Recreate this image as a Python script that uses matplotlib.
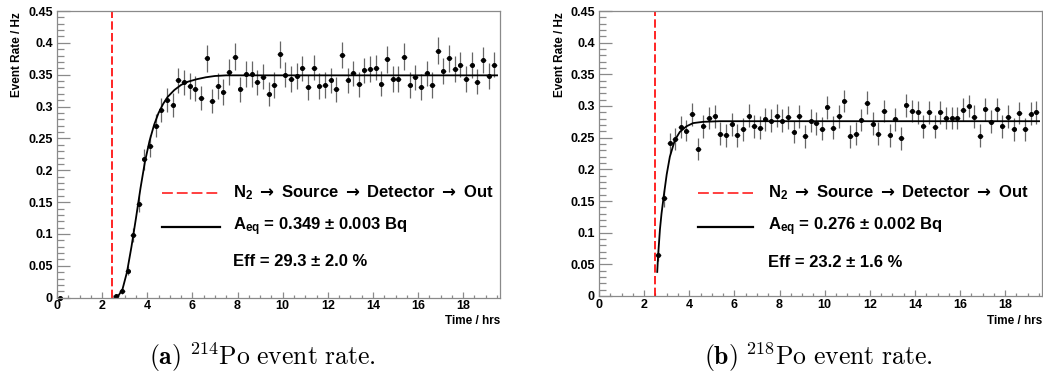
import matplotlib
matplotlib.use("Agg")
import matplotlib.pyplot as plt
from matplotlib.ticker import MultipleLocator, FuncFormatter

plt.rcParams['font.family'] = ['Liberation Sans', 'DejaVu Sans']
plt.rcParams['font.weight'] = 'bold'
plt.rcParams['mathtext.fontset'] = 'custom'
plt.rcParams['mathtext.rm'] = 'Liberation Sans:bold'
plt.rcParams['mathtext.it'] = 'Liberation Sans:bold'
plt.rcParams['mathtext.bf'] = 'Liberation Sans:bold'
plt.rcParams['mathtext.sf'] = 'DejaVu Sans'

# --- data ---
# bin centres (hrs), shared by both panels
time_hr = [2.625, 2.875, 3.125, 3.375, 3.625, 3.875, 4.125, 4.375, 4.625, 4.875,
           5.125, 5.375, 5.625, 5.875, 6.125, 6.375, 6.625, 6.875, 7.125, 7.375,
           7.625, 7.875, 8.125, 8.375, 8.625, 8.875, 9.125, 9.375, 9.625, 9.875,
           10.125, 10.375, 10.625, 10.875, 11.125, 11.375, 11.625, 11.875, 12.125, 12.375,
           12.625, 12.875, 13.125, 13.375, 13.625, 13.875, 14.125, 14.375, 14.625, 14.875,
           15.125, 15.375, 15.625, 15.875, 16.125, 16.375, 16.625, 16.875, 17.125, 17.375,
           17.625, 17.875, 18.125, 18.375, 18.625, 18.875, 19.125, 19.375]
bin_half = 0.125

# Po-214
po214_rate = [0.003, 0.010, 0.042, 0.099, 0.147, 0.217, 0.238, 0.270, 0.294, 0.310,
              0.302, 0.341, 0.338, 0.332, 0.328, 0.314, 0.376, 0.309, 0.332, 0.323,
              0.354, 0.378, 0.327, 0.351, 0.351, 0.338, 0.347, 0.320, 0.334, 0.382,
              0.350, 0.343, 0.348, 0.360, 0.330, 0.361, 0.332, 0.334, 0.341, 0.327,
              0.381, 0.341, 0.352, 0.335, 0.357, 0.359, 0.361, 0.336, 0.374, 0.343,
              0.343, 0.378, 0.334, 0.346, 0.331, 0.352, 0.334, 0.388, 0.356, 0.376,
              0.359, 0.366, 0.343, 0.365, 0.339, 0.373, 0.348, 0.366]
po214_err = [0.002, 0.004, 0.007, 0.011, 0.013, 0.016, 0.017, 0.018, 0.019, 0.019,
             0.019, 0.020, 0.020, 0.020, 0.020, 0.019, 0.021, 0.019, 0.020, 0.020,
             0.020, 0.021, 0.020, 0.020, 0.020, 0.020, 0.020, 0.019, 0.020, 0.021,
             0.020, 0.020, 0.020, 0.020, 0.020, 0.020, 0.020, 0.020, 0.020, 0.020,
             0.021, 0.020, 0.020, 0.020, 0.020, 0.020, 0.020, 0.020, 0.021, 0.020,
             0.020, 0.021, 0.020, 0.020, 0.020, 0.020, 0.020, 0.021, 0.020, 0.021,
             0.020, 0.020, 0.020, 0.020, 0.020, 0.021, 0.020, 0.020]
po214_early_t = [0.125]
po214_early_rate = [0.0]
po214_fit_t = [2.58, 2.70, 2.90, 3.10, 3.30, 3.50, 3.70, 3.90, 4.10, 4.30, 4.50,
               4.70, 4.90, 5.20, 5.50, 5.80, 6.20, 6.60, 7.00, 7.50, 19.50]
po214_fit = [0.000, 0.002, 0.013, 0.040, 0.080, 0.125, 0.172, 0.214, 0.246, 0.271, 0.290,
             0.304, 0.315, 0.326, 0.334, 0.339, 0.343, 0.346, 0.348, 0.349, 0.349]

# Po-218
po218_rate = [0.064, 0.154, 0.241, 0.248, 0.267, 0.261, 0.287, 0.232, 0.268, 0.281,
              0.284, 0.256, 0.254, 0.271, 0.254, 0.263, 0.285, 0.268, 0.266, 0.279,
              0.277, 0.285, 0.277, 0.282, 0.259, 0.284, 0.252, 0.277, 0.273, 0.264,
              0.298, 0.266, 0.284, 0.308, 0.252, 0.256, 0.278, 0.305, 0.272, 0.256,
              0.292, 0.254, 0.279, 0.249, 0.301, 0.292, 0.290, 0.268, 0.290, 0.267,
              0.290, 0.281, 0.281, 0.281, 0.294, 0.300, 0.283, 0.253, 0.295, 0.275,
              0.295, 0.268, 0.283, 0.263, 0.289, 0.263, 0.288, 0.290]
po218_err = [0.009, 0.013, 0.016, 0.017, 0.017, 0.017, 0.018, 0.017, 0.018, 0.018,
             0.018, 0.018, 0.018, 0.018, 0.018, 0.018, 0.018, 0.018, 0.018, 0.018,
             0.018, 0.018, 0.018, 0.018, 0.018, 0.018, 0.018, 0.018, 0.018, 0.018,
             0.018, 0.018, 0.018, 0.018, 0.018, 0.018, 0.018, 0.018, 0.018, 0.018,
             0.018, 0.018, 0.018, 0.018, 0.018, 0.018, 0.018, 0.018, 0.018, 0.018,
             0.018, 0.018, 0.018, 0.018, 0.018, 0.018, 0.018, 0.018, 0.018, 0.018,
             0.018, 0.018, 0.018, 0.018, 0.018, 0.018, 0.018, 0.018]
po218_fit_t = [2.58, 2.62, 2.70, 2.77, 2.87, 3.00, 3.14, 3.36, 3.58, 3.88, 4.17,
               4.61, 5.35, 19.50]
po218_fit = [0.038, 0.064, 0.105, 0.130, 0.158, 0.192, 0.220, 0.246, 0.259, 0.268, 0.273,
             0.275, 0.276, 0.276]

flush_time = [2.45, 2.5]

ARROW = r'$\mathsf{\rightarrow}$'
legend_n2 = 'N$_2$ ' + ARROW + ' Source ' + ARROW + ' Detector ' + ARROW + ' Out'
legend_fit = [r'A$_{eq}$ = 0.349 ± 0.003 Bq', r'A$_{eq}$ = 0.276 ± 0.002 Bq']
legend_eff = ['Eff = 29.3 ± 2.0 %', 'Eff = 23.2 ± 1.6 %']
captions = [r'$\mathbf{(a)}\ {}^{214}\mathrm{Po\ event\ rate.}$',
            r'$\mathbf{(b)}\ {}^{218}\mathrm{Po\ event\ rate.}$']

W, H = 1043, 376
fig = plt.figure(figsize=(W / 100, H / 100), dpi=100)

# axes boxes in pixels: left, top, right, bottom
boxes = [(57, 11, 500, 297.7), (599, 11, 1042, 296)]
leg_x = [(0.237, 0.368, 0.397), (0.223, 0.348, 0.381)]
leg_y = [(0.365, 0.247, 0.125), (0.361, 0.242, 0.119)]
ylab_x = [17, 560]
cap_x = [262, 818]

panels = [
    (po214_rate, po214_err, po214_fit_t, po214_fit),
    (po218_rate, po218_err, po218_fit_t, po218_fit),
]

frame_col = '#8a8a8a'
for i, (rate, err, ft, fv) in enumerate(panels):
    l, t, r, b = boxes[i]
    ax = fig.add_axes([l / W, 1 - b / H, (r - l) / W, (b - t) / H])
    ax.set_xlim(0, 19.63)
    ax.set_ylim(0, 0.45)

    ax.axvline(flush_time[i], color='red', lw=1.2, dashes=(5, 2))
    ax.errorbar(time_hr, rate, yerr=err, xerr=bin_half, fmt='o', ms=2.6,
                color='black', ecolor='#666666', elinewidth=0.9, capsize=0)
    if i == 0:
        ax.plot(po214_early_t, po214_early_rate, 'o', ms=2.6, color='black', clip_on=False)
    ax.plot(ft, fv, color='black', lw=1.3)

    # legend drawn by hand (ROOT TLegend style)
    x0, x1, xt = leg_x[i]
    y0, y1, y2 = leg_y[i]
    ax.plot([x0, x1], [y0, y0], transform=ax.transAxes, color='#ff3030', lw=1.3, dashes=(6, 2.2))
    ax.plot([x0, x1], [y1, y1], transform=ax.transAxes, color='black', lw=1.6)
    ax.text(xt, y0, legend_n2, transform=ax.transAxes, va='center', ha='left', fontsize=12)
    ax.text(xt, y1, legend_fit[i], transform=ax.transAxes, va='center', ha='left', fontsize=12)
    ax.text(xt, y2, legend_eff[i], transform=ax.transAxes, va='center', ha='left', fontsize=12)

    ax.xaxis.set_major_locator(MultipleLocator(2))
    ax.xaxis.set_minor_locator(MultipleLocator(0.5))
    ax.yaxis.set_major_locator(MultipleLocator(0.05))
    ax.yaxis.set_minor_locator(MultipleLocator(0.01))
    ax.xaxis.set_major_formatter(FuncFormatter(lambda v, p: '%g' % round(v, 3)))
    ax.yaxis.set_major_formatter(FuncFormatter(lambda v, p: '%g' % round(v, 3)))
    ax.tick_params(which='both', direction='in', color=frame_col, width=0.9,
                   labelsize=9, top=False, right=False)
    ax.tick_params(axis='y', which='major', length=9, pad=3)
    ax.tick_params(axis='y', which='minor', length=5)
    ax.tick_params(axis='x', which='major', length=4.5, pad=2)
    ax.tick_params(axis='x', which='minor', length=2.5)
    for lab in ax.get_xticklabels() + ax.get_yticklabels():
        lab.set_fontweight('bold')
    for s in ax.spines.values():
        s.set_color(frame_col)
        s.set_linewidth(0.9)

    fig.text(ylab_x[i] / W, 1 - 12 / H, 'Event Rate / Hz', rotation=90,
             ha='center', va='top', fontsize=8.5)
    fig.text(r / W, 1 - 321 / H, 'Time / hrs', ha='right', va='center', fontsize=8.5)
    fig.text(cap_x[i] / W, 1 - 357 / H, captions[i], ha='center', va='center',
             fontsize=18.5, math_fontfamily='cm')

fig.savefig('out.png', dpi=100)
